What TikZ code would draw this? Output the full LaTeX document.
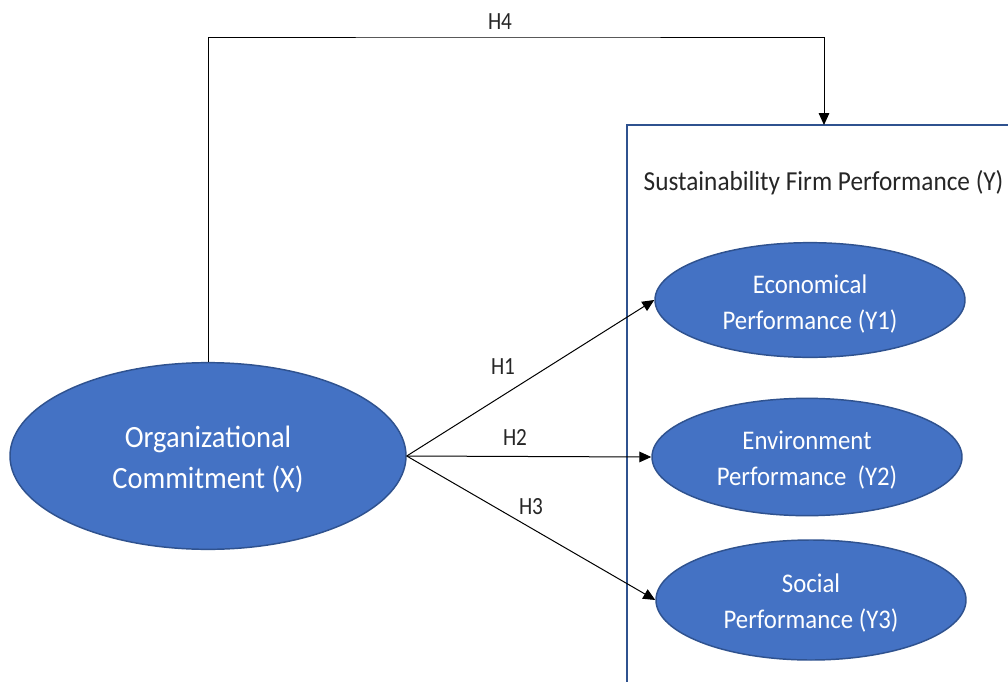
\documentclass[tikz,border=0pt]{standalone}
\usepackage{fontspec}
\setmainfont{Carlito}[FakeStretch=0.92]
\newfontfamily\labelfont{Carlito}[FakeStretch=0.86]
\usetikzlibrary{shapes.geometric,arrows.meta}
\definecolor{ovalfill}{HTML}{4472C4}
\definecolor{ovalline}{HTML}{2F528F}
\definecolor{frameblue}{HTML}{2F528F}
\definecolor{inktext}{HTML}{262626}
% extra room above the first line pushes the two-line label a little lower
\newcommand\lowerby[1]{\rule{0pt}{#1}}
\tikzset{
  oval/.style={ellipse, draw=ovalline, line width=1.1pt, fill=ovalfill,
    text=white, inner sep=0pt, align=center},
  yoval/.style={oval, minimum width=232.5pt, minimum height=86pt,
    font=\fontsize{20.2}{27}\selectfont},
  link/.style={draw=black, line width=0.75pt,
    -{Triangle[length=9pt,width=8pt]}},
  hyp/.style={text=inktext, font=\labelfont\fontsize{18.5}{22}\selectfont, inner sep=1pt}
}
\begin{document}
\begin{tikzpicture}[x=0.75pt,y=-0.75pt]
  \useasboundingbox (0,0) rectangle (1008,682);
  \clip (0,0) rectangle (1008,682);
  \fill[white] (0,0) rectangle (1008,682);

  % frame around the Y constructs (runs past the right and bottom edges)
  \coordinate (fbl) at (627,700);
  \coordinate (ftl) at (627,125);
  \coordinate (ftr) at (1030,125);
  \draw[frameblue, line width=1.5pt] (fbl) -- (ftl) -- (ftr);
  \node[text=inktext, font=\fontsize{20.6}{24}\selectfont, anchor=west]
    (ytitle) at (639,183) {Sustainability Firm Performance (Y)};

  % constructs
  \node[oval, minimum width=297pt, minimum height=140pt,
    font=\fontsize{23.2}{30.8}\selectfont]
    (org) at (208,456) {\lowerby{21.5pt}Organizational\\Commitment (X)};
  \node[yoval] (eco) at (810,300) {\lowerby{20.5pt}Economical\\Performance (Y1)};
  \node[yoval, minimum height=88pt] (env) at (807,457) {\lowerby{18pt}Environment\\Performance\ \ (Y2)};
  \node[yoval, minimum height=90pt] (soc) at (811,600) {\lowerby{19pt}Social\\Performance (Y3)};

  % hypotheses
  \draw[link] (org.east) -- (eco.west);
  \draw[link] (org.east) -- (env.west);
  \draw[link] (org.east) -- (soc.west);
  \node[hyp] (h1) at (503,367) {H1};
  \node[hyp] (h2) at (515,437) {H2};
  \node[hyp] (h3) at (531,507) {H3};

  \coordinate (h4top) at (500,37);
  \coordinate (h4in) at (824,125);
  \draw[link] (org.north) |- (h4top) -| (h4in);
  \node[hyp] (h4) at (500,22) {H4};
\end{tikzpicture}
\end{document}
